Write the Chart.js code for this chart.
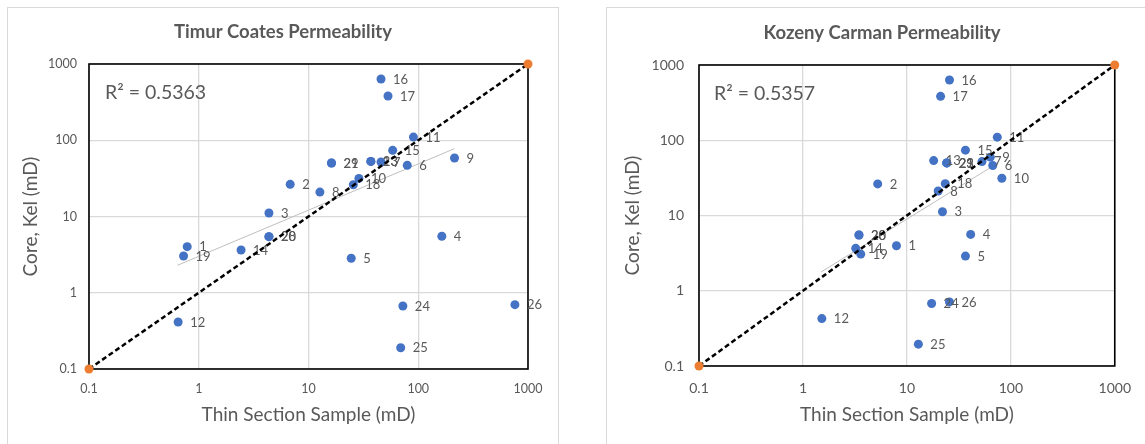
<!DOCTYPE html>
<html>
<head>
<meta charset="utf-8">
<script src="https://cdn.jsdelivr.net/npm/chart.js@4.4.1/dist/chart.umd.min.js"></script>
<style>
  body { margin: 0; background: #fff; width: 1145px; height: 444px; overflow: hidden; position: relative; }
  .card { position: absolute; top: 7px; width: 552px; height: 460px; border: 1px solid #d9d9d9; box-sizing: border-box; }
  canvas { position: absolute; top: 8px; }
</style>
</head>
<body>
<div class="card" style="left:7px"></div>
<div class="card" style="left:606px"></div>
<canvas id="tcChart" width="550" height="436" style="left:8px"></canvas>
<canvas id="kcChart" width="538" height="436" style="left:607px"></canvas>
<script>
// ── Data ──────────────────────────────────────────────────────────────────────
const tickValues = [0.1, 1, 10, 100, 1000];
const tickLabels = ["0.1", "1", "10", "100", "1000"];

const oneToOneX = [0.1, 1000];
const oneToOneY = [0.1, 1000];

// Timur Coates
const tcLabels = ["1","2","3","4","5","6","7","8","9","10","11","12","13","14","15","16","17","18","19","20","21","23","24","25","26","28","29"];
const tcX = [0.785, 6.81, 4.36, 164, 24.5, 79.4, 45.8, 12.7, 214, 28.8, 90.4, 0.649, 37.0, 2.43, 58.5, 45.8, 53.0, 25.6, 0.727, 4.36, 16.2, 37.0, 72.4, 69.2, 760, 4.36, 16.2];
const tcY = [4.02, 26.4, 11.1, 5.50, 2.83, 46.9, 51.9, 20.9, 58.5, 31.6, 110, 0.413, 52.8, 3.64, 73.8, 635, 380, 26.1, 3.03, 5.44, 50.3, 52.8, 0.670, 0.190, 0.698, 5.44, 50.3];
const tcTrendX = [0.64, 214];
const tcTrendY = [2.29, 77.6];

// Kozeny Carman
const kcLabels = ["1","2","3","4","5","6","7","8","9","10","11","12","13","14","15","16","17","18","19","20","21","23","24","25","26","28","29"];
const kcX = [7.94, 5.24, 22.0, 41.1, 36.6, 67.0, 52.8, 20.0, 63.4, 82.0, 74.1, 1.52, 18.1, 3.22, 36.6, 25.7, 21.1, 23.4, 3.60, 3.46, 24.2, 24.2, 17.3, 12.9, 25.7, 3.46, 24.2];
const kcY = [3.96, 26.3, 11.2, 5.61, 2.89, 46.1, 52.1, 21.2, 59.6, 31.3, 110, 0.427, 53.7, 3.66, 73.8, 631, 383, 26.5, 3.07, 5.50, 50.0, 50.0, 0.676, 0.195, 0.711, 5.50, 50.0];
const kcTrendX = [1.5, 70];
const kcTrendY = [1.78, 47];

const xTitle = "Thin Section Sample (mD)";
const yTitle = "Core, Kel (mD)";

const TEXT = "#595959";
const FONT = "Lato, 'Open Sans', sans-serif";

const toPts = (xs, ys) => xs.map((x, i) => ({ x, y: ys[i] }));

// ── Plot frame, point labels, titles ──────────────────────────────────────────
const decorPlugin = {
  id: "decor",
  beforeDatasetsDraw(chart) {
    const { ctx, chartArea: a } = chart;
    ctx.save();
    ctx.strokeStyle = "#000";
    ctx.lineWidth = 1.6;
    ctx.strokeRect(a.left, a.top, a.right - a.left, a.bottom - a.top);
    ctx.restore();
  },
  afterDatasetDraw(chart, args, o) {
    if (args.index !== 0) return;
    const { ctx } = chart;
    ctx.save();
    ctx.fillStyle = TEXT;
    ctx.font = `13px ${FONT}`;
    ctx.textBaseline = "middle";
    args.meta.data.forEach((pt, i) => ctx.fillText(o.labels[i], pt.x + 12, pt.y + 0.5));
    ctx.restore();
  },
  afterDraw(chart, args, o) {
    const { ctx, chartArea: a } = chart;
    ctx.save();
    ctx.fillStyle = TEXT;
    ctx.textBaseline = "middle";
    ctx.textAlign = "center";
    ctx.font = `bold 18.5px ${FONT}`;
    ctx.fillText(o.title, 275, o.titleY);
    ctx.font = `19px ${FONT}`;
    ctx.fillText(xTitle, (a.left + a.right) / 2, 407);
    ctx.save();
    ctx.translate(o.yTitleX, (a.top + a.bottom) / 2);
    ctx.rotate(-Math.PI / 2);
    ctx.fillText(yTitle, 0, 0);
    ctx.restore();
    ctx.textAlign = "left";
    ctx.font = `19.5px ${FONT}`;
    ctx.fillText(o.r2, o.r2X, o.r2Y);
    ctx.restore();
  },
};

function axis(c, isX) {
  return {
    type: "logarithmic",
    min: 0.1,
    max: 1000,
    afterBuildTicks: ax => { ax.ticks = tickValues.map(v => ({ value: v })); },
    afterFit: ax => { if (isX) ax.height = c.xh; else ax.width = c.yw; },
    grid: { color: "#d9d9d9", lineWidth: 1.3, drawTicks: false },
    border: { display: false },
    ticks: {
      padding: isX ? c.padX : c.padY,
      color: TEXT,
      font: { family: FONT, size: c.tickSize },
      autoSkip: false,
      maxRotation: 0,
      callback: v => tickLabels[tickValues.indexOf(v)],
    },
  };
}

function makeChart(id, c) {
  return new Chart(document.getElementById(id), {
    type: "scatter",
    data: {
      datasets: [
        { data: toPts(c.xs, c.ys), order: 1, backgroundColor: "#4472C4", borderWidth: 0,
          pointBorderWidth: 0, pointRadius: 4.5, clip: false },
        { data: toPts(oneToOneX, oneToOneY), order: 0, showLine: true, borderColor: "#000",
          borderWidth: 2.5, borderDash: [5, 3], pointRadius: 4.5, pointBackgroundColor: "#ED7D31",
          pointBorderWidth: 0, clip: false },
        { data: toPts(c.trendX, c.trendY), order: 2, showLine: true, borderColor: "#bfbfbf",
          borderWidth: 1, pointRadius: 0 },
      ],
    },
    options: {
      responsive: false,
      animation: false,
      layout: { padding: { top: c.top, right: c.right, left: 0, bottom: 0 } },
      plugins: {
        legend: { display: false },
        tooltip: { enabled: false },
        decor: c.decor,
      },
      scales: { x: axis(c, true), y: axis(c, false) },
    },
    plugins: [decorPlugin],
  });
}

makeChart("tcChart", {
  xs: tcX, ys: tcY, trendX: tcTrendX, trendY: tcTrendY,
  top: 56, right: 30, xh: 75, yw: 81, padX: 12, padY: 12, tickSize: 12.5,
  decor: { labels: tcLabels, title: "Timur Coates Permeability", titleY: 24,
           yTitleX: 23, r2: "R² = 0.5363", r2X: 97, r2Y: 85 },
});

makeChart("kcChart", {
  xs: kcX, ys: kcY, trendX: kcTrendX, trendY: kcTrendY,
  top: 57, right: 19, xh: 78, yw: 92, padX: 14, padY: 15, tickSize: 14,
  decor: { labels: kcLabels, title: "Kozeny Carman Permeability", titleY: 25,
           yTitleX: 26, r2: "R² = 0.5357", r2X: 107, r2Y: 86 },
});
</script>
</body>
</html>
